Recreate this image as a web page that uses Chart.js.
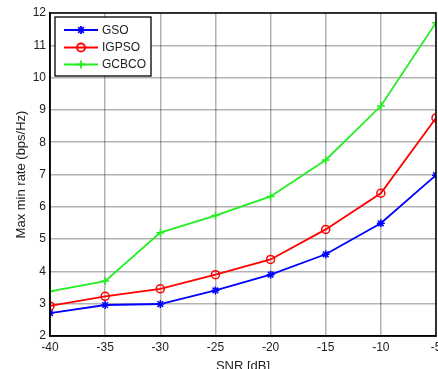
<!DOCTYPE html>
<html>
<head>
<meta charset="UTF-8">
<title>Max min rate vs SNR</title>
<script src="https://cdn.jsdelivr.net/npm/chart.js"></script>
<style>
  html, body { margin: 0; padding: 0; overflow: hidden; background: #fff; }
  canvas { display: block; }
</style>
</head>
<body>
<canvas id="chart" width="470" height="378"></canvas>
<script>
const snr = [-40, -35, -30, -25, -20, -15, -10, -5];
const gso = [2.71, 2.96, 2.99, 3.41, 3.9, 4.53, 5.49, 6.98];
const igpso = [2.93, 3.23, 3.46, 3.9, 4.37, 5.3, 6.42, 8.75];
const gcbco = [3.38, 3.7, 5.2, 5.73, 6.32, 7.45, 9.12, 11.7];
const seriesNames = ['GSO', 'IGPSO', 'GCBCO'];
const seriesColors = ['#0000ff', '#ff0000', '#22ee22'];
const seriesMarkers = ['star', 'circle', 'cross'];

const font = "'Liberation Sans', Arial, sans-serif";

// box around the plot + legend inside it
const boxLegend = {
  id: 'boxLegend',
  afterDraw(chart) {
    const { ctx, chartArea: a } = chart;
    ctx.save();
    ctx.strokeStyle = '#000';
    ctx.lineWidth = 1.5;
    ctx.strokeRect(a.left, a.top, a.right - a.left, a.bottom - a.top);

    // legend
    const lx = 55, ly = 17, lw = 96, lh = 59;
    ctx.fillStyle = '#fff';
    ctx.fillRect(lx, ly, lw, lh);
    ctx.lineWidth = 1.3;
    ctx.strokeRect(lx, ly, lw, lh);
    const rows = [30, 47.5, 64.5];
    chart.data.datasets.forEach((ds, i) => {
      const y = rows[i];
      ctx.strokeStyle = ds.borderColor;
      ctx.fillStyle = ds.backgroundColor;
      ctx.lineWidth = 1.8;
      ctx.beginPath();
      ctx.moveTo(64, y);
      ctx.lineTo(98, y);
      ctx.stroke();
      Chart.helpers.drawPoint(ctx, {
        pointStyle: ds.pointStyle,
        radius: 4,
        borderWidth: 1.5
      }, 81, y);
      ctx.fillStyle = '#222';
      ctx.font = '12px ' + font;
      ctx.textBaseline = 'middle';
      ctx.textAlign = 'left';
      ctx.fillText(ds.label, 102, y + 0.5);
    });
    ctx.restore();
  }
};

new Chart(document.getElementById('chart').getContext('2d'), {
  type: 'line',
  data: {
    labels: snr,
    datasets: [gso, igpso, gcbco].map((d, i) => ({
      label: seriesNames[i],
      data: d,
      borderColor: seriesColors[i],
      backgroundColor: seriesMarkers[i] === 'circle' ? 'rgba(0,0,0,0)' : seriesColors[i],
      pointBorderColor: seriesColors[i],
      pointStyle: seriesMarkers[i],
      pointRadius: 4,
      pointBorderWidth: 1.5,
      borderWidth: 1.8,
      tension: 0,
      fill: false
    }))
  },
  options: {
    responsive: false,
    animation: false,
    layout: { padding: { top: 13, right: 34, left: 0, bottom: 0 } },
    plugins: {
      legend: { display: false },
      tooltip: { enabled: false }
    },
    scales: {
      x: {
        type: 'linear',
        min: -40,
        max: -5,
        afterFit(s) { s.height = 42; },
        ticks: {
          stepSize: 5,
          color: '#222',
          font: { family: font, size: 12 },
          padding: 4
        },
        grid: { color: 'rgba(0,0,0,0.3)', lineWidth: 1.5, drawTicks: false },
        border: { color: '#000', width: 1.5 },
        title: {
          display: true,
          text: 'SNR [dB]',
          color: '#222',
          font: { family: font, size: 13 },
          padding: { top: 3 }
        }
      },
      y: {
        min: 2,
        max: 12,
        afterFit(s) { s.width = 50; },
        ticks: {
          stepSize: 1,
          color: '#222',
          font: { family: font, size: 12 },
          padding: 4
        },
        grid: { color: 'rgba(0,0,0,0.3)', lineWidth: 1.5, drawTicks: false },
        border: { color: '#000', width: 1.5 },
        title: {
          display: true,
          text: 'Max min rate (bps/Hz)',
          color: '#222',
          font: { family: font, size: 13 },
          padding: { top: 14, bottom: 0 }
        }
      }
    }
  },
  plugins: [boxLegend]
});
</script>
</body>
</html>
